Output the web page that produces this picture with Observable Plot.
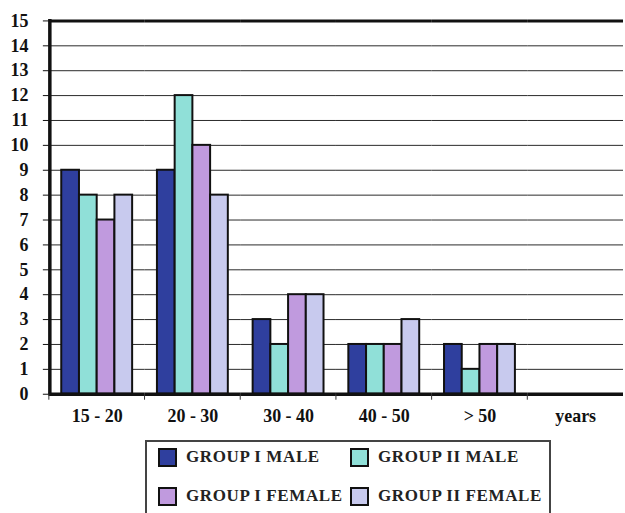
<!DOCTYPE html>
<html><head><meta charset="utf-8">
<script src="https://cdn.jsdelivr.net/npm/d3@7"></script>
<script src="https://cdn.jsdelivr.net/npm/@observablehq/plot@0.6"></script>
<style>
html,body{margin:0;padding:0;background:#fff;overflow:hidden;}
#wrap{position:relative;width:625px;height:513px;overflow:hidden;}
#wrap svg{position:absolute;left:0;top:0;}
#wrap svg text{font-family:"Liberation Serif",serif;font-weight:bold;}
.legend{position:absolute;left:145px;top:440px;width:406px;height:80px;border:2px solid #444;box-sizing:border-box;background:#fff;}
.item{position:absolute;height:18px;display:flex;align-items:center;font-family:"Liberation Serif",serif;font-weight:bold;font-size:17px;letter-spacing:0.6px;color:#222;white-space:nowrap;}
.sw{width:15px;height:15px;border:2px solid #111;margin-right:9px;flex:none;}
</style></head><body><div id="wrap"></div>
<script>
const categories = ["15 - 20", "20 - 30", "30 - 40", "40 - 50", "> 50", "years"];
const series = ["GROUP I MALE", "GROUP II MALE", "GROUP I FEMALE", "GROUP II FEMALE"];
const group1Male = [9, 9, 3, 2, 2];
const group2Male = [8, 12, 2, 2, 1];
const group1Female = [7, 10, 4, 2, 2];
const group2Female = [8, 8, 4, 3, 2];
const yTicks = [0,1,2,3,4,5,6,7,8,9,10,11,12,13,14,15];
const colors = ["#2F3F9E", "#90E0D8", "#C09ADE", "#C8CAEE"];

const seriesValues = [group1Male, group2Male, group1Female, group2Female];
const rows = [];
seriesValues.forEach((vals, s) => vals.forEach((v, i) => rows.push({cat: categories[i], series: series[s], value: v})));
const gridRows = [];
categories.forEach(c => yTicks.forEach(t => gridRows.push({cat: c, v: t})));

const font = "Liberation Serif";
const chart = Plot.plot({
  width: 627, height: 440,
  marginLeft: 47, marginRight: 0, marginTop: 20.5, marginBottom: 45,
  style: {background: "white", fontFamily: font},
  fx: {domain: categories, padding: 0, axis: null, label: null},
  x: {domain: series, paddingInner: 0, paddingOuter: 0.7, axis: null, round: false},
  y: {domain: [0, 15], axis: null},
  color: {domain: series, range: colors},
  marks: [
    Plot.ruleY(gridRows, {fx: "cat", y: "v", stroke: "#2a2a2a", strokeWidth: 1}),
    Plot.barY(rows, {fx: "cat", x: "series", y: "value", fill: "series", stroke: "#111", strokeWidth: 2}),
    Plot.ruleY([15], {stroke: "#111", strokeWidth: 3}),
    Plot.ruleY([0], {stroke: "#111", strokeWidth: 3.5}),
    Plot.axisY({ticks: yTicks, tickSize: 6, tickPadding: 15, fontSize: 18, fontWeight: "bold", fontFamily: font, fill: "#111", stroke: "#111", label: null}),
    Plot.axisFx({anchor: "bottom", tickSize: 0, tickPadding: 15, fontSize: 18, fontWeight: "bold", fontFamily: font, fill: "#111", label: null})
  ]
});

document.getElementById("wrap").appendChild(chart);

// axis line and category boundary ticks from the library's scales
const fx = chart.scale("fx"), y = chart.scale("y");
const svg = d3.select(chart);
const g = svg.append("g");
const x0 = fx.apply(categories[0]);
g.append("line").attr("x1", x0 + 1).attr("x2", x0 + 1)
  .attr("y1", y.apply(15) - 1.5).attr("y2", y.apply(0) + 1.75)
  .attr("stroke", "#111").attr("stroke-width", 3.5);
categories.forEach(c => {
  const xc = fx.apply(c);
  g.append("line").attr("x1", xc).attr("x2", xc)
    .attr("y1", y.apply(0)).attr("y2", y.apply(0) + 6)
    .attr("stroke", "#333").attr("stroke-width", 1);
});

// legend
const legend = document.createElement("div");
legend.className = "legend";
const pos = [[11, 6], [203, 6], [11, 45], [203, 45]];
series.forEach((s, i) => {
  const it = document.createElement("div");
  it.className = "item";
  it.style.left = pos[i][0] + "px";
  it.style.top = pos[i][1] + "px";
  const sw = document.createElement("span");
  sw.className = "sw";
  sw.style.background = colors[i];
  it.appendChild(sw);
  it.appendChild(document.createTextNode(s));
  legend.appendChild(it);
});
document.getElementById("wrap").appendChild(legend);
</script></body></html>
